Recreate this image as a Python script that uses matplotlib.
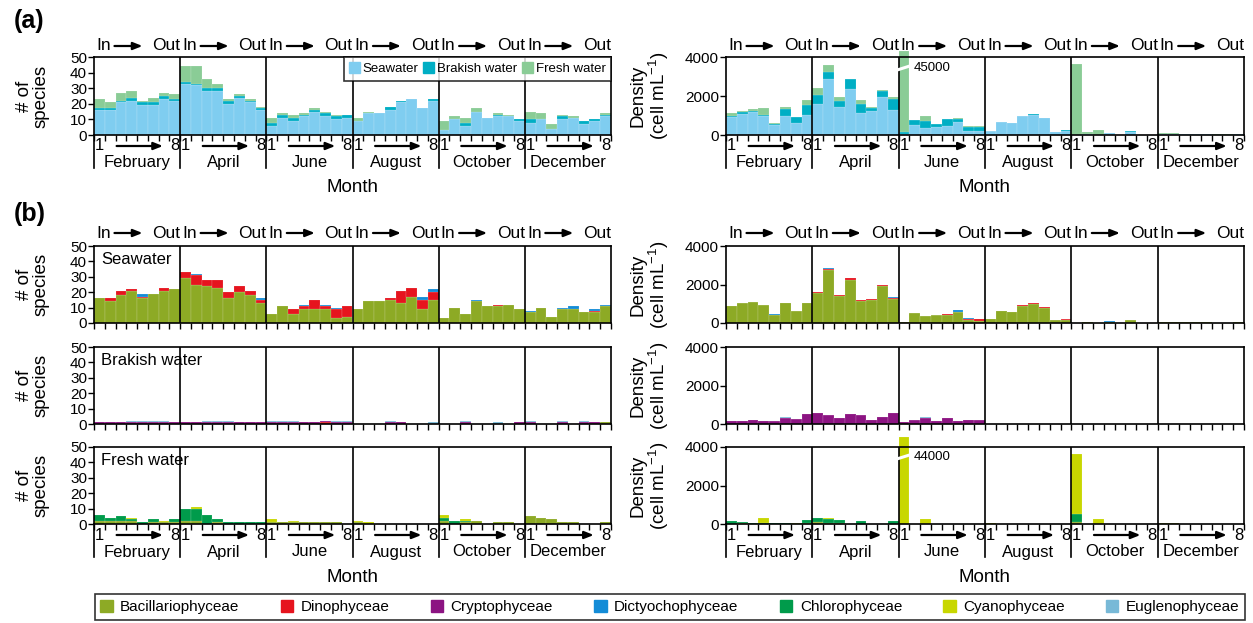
import matplotlib

matplotlib.use("Agg")
import matplotlib.pyplot as plt  # noqa: E402
import numpy as np  # noqa: E402
from matplotlib.lines import Line2D  # noqa: E402
from matplotlib.patches import Patch  # noqa: E402
from matplotlib.transforms import blended_transform_factory  # noqa: E402

plt.rcParams["font.family"] = ["Liberation Sans", "DejaVu Sans"]
plt.rcParams["mathtext.fontset"] = "custom"
plt.rcParams["mathtext.rm"] = "Liberation Sans"

months = ["February", "April", "June", "August", "October", "December"]

# ---- (a) number of species per habitat (8 sites x 6 months) ----
sp_sea = [16, 16, 21, 22, 19, 19, 23, 22,
          33, 32, 28, 28, 20, 24, 21, 16,
          6, 11, 9, 12, 15, 12, 10, 11,
          9, 14, 14, 16, 21, 23, 17, 22,
          3, 10, 6, 15, 11, 12, 12, 9,
          8, 10, 4, 10, 11, 7, 9, 12]
sp_brak = [1, 1, 1, 2, 2, 2, 2, 1,
           1, 1, 2, 2, 2, 1, 1, 1,
           2, 2, 2, 1, 1, 2, 2, 2,
           0, 0, 0, 2, 1, 0, 0, 1,
           0, 0, 2, 0, 0, 1, 0, 1,
           2, 0, 0, 2, 0, 2, 1, 1]
sp_fresh = [6, 4, 5, 4, 1, 3, 2, 3,
            10, 11, 6, 3, 1, 1, 1, 1,
            3, 1, 2, 1, 1, 1, 1, 0,
            2, 1, 0, 0, 0, 0, 0, 0,
            6, 2, 3, 2, 0, 1, 1, 0,
            5, 4, 3, 1, 1, 0, 0, 1]

# ---- (a) density per habitat (cell/mL) ----
den_sea = [900, 1100, 1180, 950, 500, 1000, 600, 1050,
           1580, 2850, 1450, 2350, 1150, 1250, 1950, 1300,
           30, 530, 370, 410, 480, 650, 230, 200,
           200, 650, 600, 950, 1050, 850, 150, 230,
           0, 50, 0, 100, 0, 170, 0, 0,
           40, 40, 40, 40, 50, 20, 20, 50]
den_brak = [100, 70, 70, 100, 50, 350, 300, 500,
            470, 400, 300, 500, 450, 150, 300, 550,
            100, 220, 330, 130, 320, 180, 200, 230,
            10, 0, 0, 10, 10, 0, 0, 10,
            0, 0, 10, 0, 0, 10, 0, 5,
            10, 5, 5, 10, 5, 5, 5, 5]
den_fresh = [130, 80, 60, 350, 50, 70, 20, 230,
             350, 330, 220, 20, 180, 50, 50, 120,
             44870, 30, 250, 20, 20, 20, 20, 20,
             20, 10, 0, 0, 0, 0, 0, 0,
             3650, 80, 250, 20, 0, 10, 5, 0,
             60, 40, 10, 10, 10, 5, 5, 5]

# ---- (b) species per class, seawater ----
sea_sp_bac = [16, 14, 18, 21, 16, 19, 21, 22,
              29, 25, 24, 23, 16, 20, 18, 13,
              6, 11, 6, 9, 9, 9, 3, 4,
              9, 14, 14, 15, 13, 17, 9, 15,
              3, 10, 6, 14, 11, 11, 12, 9,
              7, 10, 4, 9, 9, 7, 7, 11]
sea_sp_dino = [0, 2, 3, 1, 1, 0, 2, 0,
               4, 6, 4, 5, 4, 4, 3, 2,
               0, 0, 3, 2, 6, 2, 6, 7,
               0, 0, 0, 1, 8, 6, 6, 5,
               0, 0, 0, 0, 0, 1, 0, 0,
               0, 0, 0, 0, 0, 0, 1, 0]
sea_sp_dict = [0, 0, 0, 0, 2, 0, 0, 0,
               0, 1, 0, 0, 0, 0, 0, 1,
               0, 0, 0, 1, 0, 1, 1, 0,
               0, 0, 0, 0, 0, 0, 2, 2,
               0, 0, 0, 1, 0, 0, 0, 0,
               1, 0, 0, 1, 2, 0, 1, 1]

# ---- (b) species per class, brakish water ----
brak_sp_bac = [0] * 47 + [1]
brak_sp_dino = [0] * 21 + [1] + [0] * 26
brak_sp_crypt = [1, 1, 1, 1, 1, 1, 1, 1,
                 1, 1, 1, 1, 1, 1, 1, 1,
                 1, 1, 1, 1, 1, 1, 1, 1,
                 0, 0, 0, 1, 1, 0, 0, 0,
                 0, 0, 1, 0, 0, 0, 0, 1,
                 1, 0, 0, 1, 0, 1, 1, 0]
brak_sp_eugl = [0, 0, 0, 1, 1, 1, 1, 0,
                0, 0, 1, 1, 1, 0, 0, 0,
                1, 1, 1, 0, 0, 0, 1, 1,
                0, 0, 0, 1, 0, 0, 0, 1,
                0, 0, 1, 0, 0, 1, 0, 0,
                1, 0, 0, 1, 0, 1, 0, 0]

# ---- (b) species per class, fresh water ----
fresh_sp_bac = [2, 2, 2, 2, 0, 1, 1, 1,
                2, 2, 0, 1, 0, 0, 0, 0,
                1, 1, 1, 1, 1, 1, 1, 0,
                1, 0, 0, 0, 0, 0, 0, 0,
                2, 0, 1, 2, 0, 1, 1, 0,
                5, 4, 3, 1, 1, 0, 0, 1]
fresh_sp_chlo = [4, 2, 3, 1, 1, 2, 0, 2,
                 8, 8, 6, 2, 1, 1, 1, 1,
                 0, 0, 0, 0, 0, 0, 0, 0,
                 0, 0, 0, 0, 0, 0, 0, 0,
                 2, 2, 1, 0, 0, 0, 0, 0,
                 0, 0, 0, 0, 0, 0, 0, 0]
fresh_sp_cyan = [0, 0, 0, 1, 0, 0, 1, 0,
                 0, 1, 0, 0, 0, 0, 0, 0,
                 2, 0, 1, 0, 0, 0, 0, 0,
                 1, 1, 0, 0, 0, 0, 0, 0,
                 2, 0, 1, 0, 0, 0, 0, 0,
                 0, 0, 0, 0, 0, 0, 0, 0]

# ---- (b) density per class ----
sea_den_bac = [880, 1030, 1080, 940, 430, 1030, 600, 1050,
               1550, 2750, 1420, 2250, 1130, 1220, 1900, 1260,
               30, 520, 360, 400, 430, 570, 150, 100,
               190, 630, 580, 900, 1000, 800, 140, 160,
               0, 60, 0, 60, 0, 160, 0, 0,
               40, 40, 40, 30, 40, 10, 10, 40]
sea_den_dino = [0, 20, 20, 20, 0, 0, 10, 0,
                40, 60, 20, 110, 60, 40, 60, 40,
                0, 0, 20, 10, 50, 10, 80, 100,
                0, 0, 0, 10, 30, 40, 30, 40,
                0, 0, 0, 0, 0, 10, 0, 0,
                0, 0, 0, 0, 0, 0, 0, 0]
sea_den_dict = [0, 0, 0, 0, 60, 0, 0, 0,
                0, 50, 0, 0, 0, 0, 0, 30,
                0, 10, 0, 10, 0, 80, 20, 0,
                0, 0, 0, 0, 0, 0, 0, 30,
                0, 0, 0, 40, 0, 0, 0, 0,
                0, 0, 0, 0, 20, 0, 0, 20]
brak_den_crypt = [170, 150, 200, 180, 150, 330, 260, 540,
                  550, 470, 300, 500, 460, 200, 350, 570,
                  100, 200, 330, 130, 320, 180, 200, 220,
                  10, 10, 10, 20, 10, 0, 10, 0,
                  0, 0, 10, 0, 0, 10, 0, 10,
                  10, 10, 10, 10, 10, 10, 10, 0]
brak_den_eugl = [0, 0, 0, 0, 10, 10, 10, 0,
                 0, 10, 0, 0, 10, 0, 0, 0,
                 0, 10, 20, 0, 0, 0, 0, 10,
                 0, 0, 0, 0, 0, 0, 0, 0,
                 0, 0, 0, 0, 0, 0, 0, 0,
                 0, 0, 0, 0, 0, 0, 0, 0]
fresh_den_bac = [20, 30, 20, 20, 10, 10, 30, 30,
                 80, 60, 30, 10, 10, 10, 10, 20,
                 20, 10, 0, 10, 10, 10, 10, 0,
                 20, 10, 0, 0, 0, 0, 0, 0,
                 100, 10, 0, 20, 0, 10, 5, 0,
                 60, 40, 10, 10, 10, 0, 0, 5]
fresh_den_chlo = [110, 50, 20, 10, 20, 60, 0, 170,
                  220, 220, 200, 10, 160, 10, 10, 110,
                  0, 0, 0, 0, 0, 0, 0, 0,
                  0, 0, 0, 0, 0, 0, 0, 0,
                  420, 0, 0, 0, 0, 0, 0, 0,
                  0, 0, 0, 0, 0, 0, 0, 0]
fresh_den_cyan = [0, 0, 10, 300, 0, 0, 30, 0,
                  0, 50, 0, 0, 0, 0, 0, 0,
                  43980, 10, 250, 10, 10, 10, 10, 10,
                  10, 10, 0, 0, 0, 0, 0, 0,
                  3100, 10, 250, 0, 0, 0, 0, 0,
                  0, 0, 0, 0, 0, 0, 0, 0]

# colours
C_SEA, C_BRAK, C_FRESH = "#7fcdf0", "#00aec4", "#8acc96"
C_BAC, C_DINO, C_CRYPT = "#8daa25", "#e6141e", "#8c1482"
C_DICT, C_CHLO, C_CYAN, C_EUGL = "#148cd7", "#009b4b", "#c8d700", "#78b9d7"

W, H = 1253, 623
fig = plt.figure(figsize=(W / 100, H / 100), dpi=100)

LX = (94, 611)
RX = (726, 1244)
ROW_A = (57, 135)
ROWS_B = [(246, 323), (347, 424), (447, 524)]
NBAR = 48


def add_ax(xr, yr):
    return fig.add_axes([xr[0] / W, 1 - yr[1] / H,
                         (xr[1] - xr[0]) / W, (yr[1] - yr[0]) / H])


def stack(ax, layers, cap=None):
    x = np.arange(NBAR)
    bottom = np.zeros(NBAR)
    for vals, color in layers:
        top = bottom + np.asarray(vals, float)
        lo, hi = (bottom, top) if cap is None else (np.minimum(bottom, cap), np.minimum(top, cap))
        h = hi - lo
        keep = h > 0
        ax.bar(x[keep], h[keep], bottom=lo[keep], width=1.0, color=color,
               edgecolor=(1, 1, 1, 0.35), linewidth=0.3, clip_on=False, zorder=2)
        bottom = top


def style(ax, ymax, yticks):
    ax.set_xlim(-0.5, NBAR - 0.5)
    ax.set_ylim(0, ymax)
    ax.set_xticks(np.arange(-0.5, NBAR, 1))
    ax.tick_params(axis="x", length=4, width=1, labelbottom=False)
    ax.set_yticks(yticks)
    ax.tick_params(axis="y", length=4, width=1, labelsize=11, pad=1)
    for s in ax.spines.values():
        s.set_linewidth(1.2)
    for b in range(1, 6):
        ax.axvline(8 * b - 0.5, color="black", lw=1.2, zorder=3)


def arrow(ax, tr, x0, x1, y):
    ax.annotate("", xy=(x1, y), xytext=(x0, y), xycoords=tr, textcoords=tr,
                arrowprops=dict(arrowstyle="-|>,head_length=0.55,head_width=0.22",
                                lw=1.6, color="black", shrinkA=0, shrinkB=0))


def in_out(ax, ypx):
    tr = blended_transform_factory(ax.transData, fig.transFigure)
    y = 1 - ypx / H
    for m in range(6):
        x0 = 8 * m - 0.5
        ax.text(x0 + 0.2, y, "In", transform=tr, ha="left", va="center", fontsize=12.5)
        ax.text(x0 + 8.0, y, "Out", transform=tr, ha="right", va="center", fontsize=12.5)
        arrow(ax, tr, x0 + 1.9, x0 + 4.5, y)


def month_axis(ax, ybot, label_x):
    tr = blended_transform_factory(ax.transData, fig.transFigure)
    y_num, y_name = 1 - (ybot + 11) / H, 1 - (ybot + 28) / H
    for m in range(6):
        x0 = 8 * m - 0.5
        ax.add_line(Line2D([x0, x0], [1 - ybot / H, 1 - (ybot + 33) / H], transform=tr,
                           color="black", lw=1.2, clip_on=False))
        ax.text(x0 + 0.5, y_num, "1", transform=tr, ha="center", va="center", fontsize=12)
        ax.text(x0 + 7.5, y_num, "8", transform=tr, ha="center", va="center", fontsize=12)
        arrow(ax, tr, x0 + 2.1, x0 + 6.4, y_num)
        ax.text(x0 + 4.0, y_name, months[m], transform=tr, ha="center", va="center",
                fontsize=12)
    fig.text(label_x / W, 1 - (ybot + 53) / H, "Month", ha="center", va="center", fontsize=13.5)


def broken(ax, i, yb, label):
    ax.plot([i - 0.6, i + 0.65], [yb - 110, yb + 110], color="white", lw=2.2,
            clip_on=False, zorder=5, solid_capstyle="butt")
    ax.text(i + 0.85, yb, label, ha="left", va="center", fontsize=9.5, zorder=6)


def ylab(xpx, yr, text):
    fig.text(xpx / W, 1 - (yr[0] + yr[1]) / 2 / H, text, rotation=90, ha="center",
             va="center", fontsize=13.5, linespacing=1.0)


SP_TICKS = [0, 10, 20, 30, 40, 50]
DEN_TICKS = [0, 2000, 4000]
DEN_LABEL = "Density\n(cell mL$^{\\mathregular{-1}}$)"

# ---- panel (a) ----
ax = add_ax(LX, ROW_A)
stack(ax, [(sp_sea, C_SEA), (sp_brak, C_BRAK), (sp_fresh, C_FRESH)])
style(ax, 50, SP_TICKS)
in_out(ax, 46)
month_axis(ax, ROW_A[1], sum(LX) / 2)
ylab(33, ROW_A, "# of\nspecies")
leg = ax.legend([Patch(color=c) for c in (C_SEA, C_BRAK, C_FRESH)],
                ["Seawater", "Brakish water", "Fresh water"],
                loc="upper right", bbox_to_anchor=(1, 1), ncol=3, fontsize=9.5,
                frameon=True, fancybox=False, edgecolor="black", borderaxespad=0,
                handlelength=0.8, handleheight=0.9, handletextpad=0.25,
                columnspacing=0.35, borderpad=0.4)
leg.get_frame().set_linewidth(1.2)
leg.set_zorder(6)

ax = add_ax(RX, ROW_A)
stack(ax, [(den_sea, C_SEA), (den_brak, C_BRAK), (den_fresh, C_FRESH)], cap=4300)
style(ax, 4000, DEN_TICKS)
broken(ax, 16, 3450, "45000")
in_out(ax, 46)
month_axis(ax, ROW_A[1], sum(RX) / 2)
ylab(650, ROW_A, DEN_LABEL)

# ---- panel (b) ----
sp_rows = [
    ("Seawater", [(sea_sp_bac, C_BAC), (sea_sp_dino, C_DINO), (sea_sp_dict, C_DICT)]),
    ("Brakish water", [(brak_sp_bac, C_BAC), (brak_sp_dino, C_DINO),
                       (brak_sp_crypt, C_CRYPT), (brak_sp_eugl, C_EUGL)]),
    ("Fresh water", [(fresh_sp_bac, C_BAC), (fresh_sp_chlo, C_CHLO), (fresh_sp_cyan, C_CYAN)]),
]
den_rows = [
    [(sea_den_bac, C_BAC), (sea_den_dino, C_DINO), (sea_den_dict, C_DICT)],
    [(brak_den_crypt, C_CRYPT), (brak_den_eugl, C_EUGL)],
    [(fresh_den_bac, C_BAC), (fresh_den_chlo, C_CHLO), (fresh_den_cyan, C_CYAN)],
]

for r, yr in enumerate(ROWS_B):
    name, layers = sp_rows[r]
    ax = add_ax(LX, yr)
    stack(ax, layers)
    style(ax, 50, SP_TICKS)
    ax.text(0.014, 0.82, name, transform=ax.transAxes, ha="left", va="center", fontsize=12)
    ylab(33, yr, "# of\nspecies")
    if r == 0:
        in_out(ax, 233)
    if r == 2:
        month_axis(ax, yr[1], sum(LX) / 2)

    ax = add_ax(RX, yr)
    stack(ax, den_rows[r], cap=4530 if r == 2 else None)
    style(ax, 4000, DEN_TICKS)
    ylab(650, yr, DEN_LABEL)
    if r == 0:
        in_out(ax, 233)
    if r == 2:
        broken(ax, 16, 3500, "44000")
        month_axis(ax, yr[1], sum(RX) / 2)

fig.text(14 / W, 1 - 21 / H, "(a)", fontsize=18, fontweight="bold", ha="left", va="center")
fig.text(14 / W, 1 - 214 / H, "(b)", fontsize=18, fontweight="bold", ha="left", va="center")

# class legend along the bottom
classes = ["Bacillariophyceae", "Dinophyceae", "Cryptophyceae", "Dictyochophyceae",
           "Chlorophyceae", "Cyanophyceae", "Euglenophyceae"]
class_colors = [C_BAC, C_DINO, C_CRYPT, C_DICT, C_CHLO, C_CYAN, C_EUGL]
leg = fig.legend([Patch(color=c) for c in class_colors], classes, loc="center",
                 bbox_to_anchor=(95 / W, 1 - 621 / H, 1150 / W, 28 / H), mode="expand",
                 ncol=7, fontsize=11, frameon=True, fancybox=False, edgecolor="black",
                 borderaxespad=0, handlelength=0.8, handleheight=0.9, handletextpad=0.5,
                 borderpad=0.35)
leg.get_frame().set_linewidth(1.2)

fig.savefig("out.png", dpi=100)
